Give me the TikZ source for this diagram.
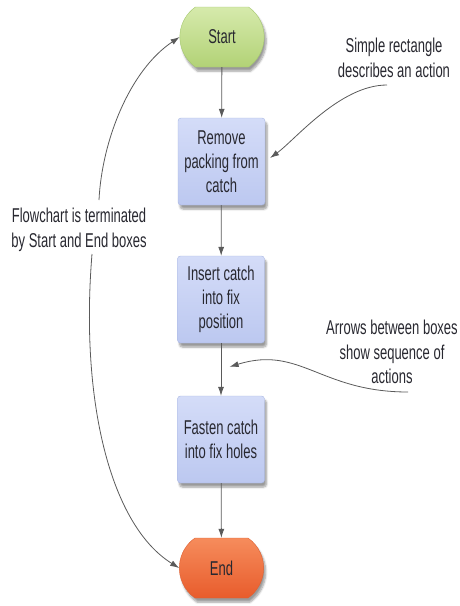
\documentclass[tikz,border=0pt]{standalone}
\usepackage{fontspec}
\setmainfont{Liberation Sans}[FakeStretch=0.65]
\usetikzlibrary{arrows.meta,calc,shapes.misc,shadows.blur}

\definecolor{starttop}{RGB}{214,234,172}
\definecolor{startbot}{RGB}{178,210,118}
\definecolor{startline}{RGB}{165,200,110}
\definecolor{endtop}{RGB}{246,140,92}
\definecolor{endbot}{RGB}{232,92,44}
\definecolor{endline}{RGB}{222,96,50}
\definecolor{boxtop}{RGB}{212,220,248}
\definecolor{boxbot}{RGB}{188,200,240}
\definecolor{boxline}{RGB}{168,182,226}
\definecolor{txt}{RGB}{40,40,48}
\definecolor{arrgray}{RGB}{90,90,90}

\begin{document}
\begin{tikzpicture}[x=1pt, y=1pt,
  term/.style={rounded rectangle, rounded rectangle arc length=110, minimum width=91pt, minimum height=60pt, font=\fontsize{20}{24}\selectfont, text=txt, blur shadow={shadow xshift=2pt, shadow yshift=-4pt, shadow blur steps=6}},
  act/.style={draw=boxline, rounded corners=3pt, top color=boxtop, bottom color=boxbot, minimum width=87pt, minimum height=87pt, align=center, font=\fontsize{20}{24}\selectfont, text=txt, blur shadow={shadow xshift=2pt, shadow yshift=-4pt, shadow blur steps=6}},
  arr/.style={-{Latex[length=9pt,width=6pt]}, draw=arrgray, line width=0.8pt},
  note/.style={align=center, font=\fontsize{20}{24.5}\selectfont, text=txt}
]
\useasboundingbox (0,0) rectangle (459,-606);

\node[term, draw=startline, top color=starttop, bottom color=startbot] (start) at (222,-37) {Start};
\node[act] (remove) at (221.5,-161.5) {Remove\\packing from\\catch};
\node[act] (insert) at (221,-299.5) {Insert catch\\into fix\\position};
\node[act] (fasten) at (221,-439.5) {Fasten catch\\into fix holes};
\node[term, draw=endline, top color=endtop, bottom color=endbot] (end) at (221.5,-568) {End};

\draw[arr] (start) -- (remove);
\draw[arr] (remove) -- (insert);
\draw[arr] (insert) -- (fasten);
\draw[arr] (fasten) -- (end);

\node[note] (termnote) at (79,-230) {Flowchart is terminated\\by Start and End boxes};
\node[note] (rectnote) at (394,-58) {Simple rectangle\\describes an action};
\node[note] (arrnote) at (392,-352) {Arrows between boxes\\show sequence of\\actions};

\coordinate (termup) at (99,-200);
\coordinate (termdown) at (92,-254);
\coordinate (recttail) at (387,-85);
\coordinate (arrtail) at (408,-392);

\draw[arr] (termup) .. controls (102,-140) and (130,-70) .. (start.west);
\draw[arr] (termdown) .. controls (80,-400) and (110,-525) .. (end.west);
\draw[arr, shorten >=6pt] (recttail) .. controls (340,-85) and (295,-140) .. (remove.east);
\draw[arr, shorten >=9pt] (arrtail) .. controls (320,-392) and (300,-345) .. ($(insert.south)!0.5!(fasten.north)$);

\end{tikzpicture}
\end{document}
